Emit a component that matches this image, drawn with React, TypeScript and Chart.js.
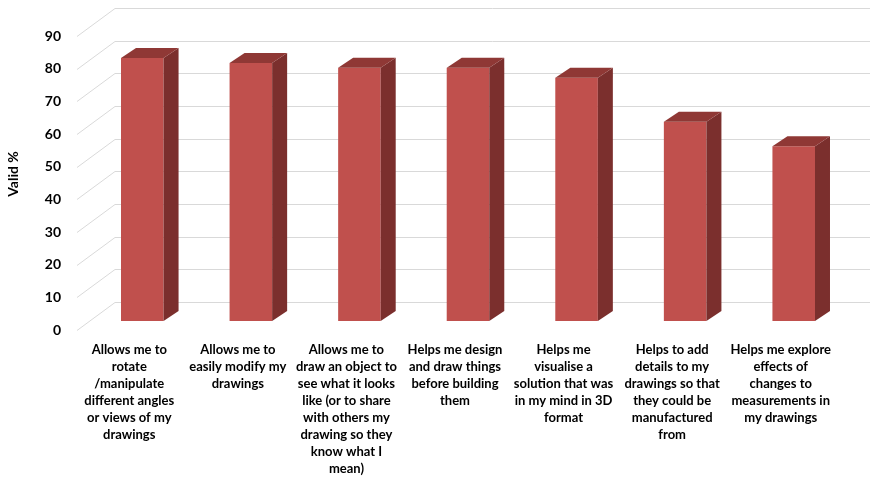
import React, { useEffect, useRef } from 'react';
import { Chart, registerables } from 'chart.js';

Chart.register(...registerables);

const categories: string[][] = [
  ['Allows me to', 'rotate', '/manipulate', 'different angles', 'or views of my', 'drawings'],
  ['Allows me to', 'easily modify my', 'drawings'],
  ['Allows me to', 'draw an object to', 'see what it looks', 'like (or to share', 'with others my', 'drawing so they', 'know what I', 'mean)'],
  ['Helps me design', 'and draw things', 'before building', 'them'],
  ['Helps me', 'visualise a', 'solution that was', 'in my mind in 3D', 'format'],
  ['Helps to add', 'details to my', 'drawings so that', 'they could be', 'manufactured', 'from'],
  ['Helps me explore', 'effects of', 'changes to', 'measurements in', 'my drawings'],
];

const validPercent: number[] = [80.5, 79, 77.5, 77.5, 74.5, 61, 53.5];

const yTicks: number[] = [0, 10, 20, 30, 40, 50, 60, 70, 80, 90];

const yTitle = 'Valid %';

const FONT = 'Lato, "Open Sans", sans-serif';
const FRONT = '#C0504D';
const SIDE = '#7B2F2D';
const TOP = '#8F3835';
const GRID = '#D9D9D9';
const BAR_DX = 15;
const BAR_DY = -10;

const plot3d = {
  id: 'plot3d',
  beforeDatasetsDraw(chart: any) {
    const { ctx, chartArea, scales } = chart;
    const y = scales.y;
    ctx.save();
    ctx.strokeStyle = GRID;
    ctx.lineWidth = 1;
    for (const v of yTicks) {
      const py = Math.round(y.getPixelForValue(v)) + 0.5;
      ctx.beginPath();
      ctx.moveTo(chartArea.left - 11, py + 9);
      ctx.lineTo(chartArea.left + 27, py - 19);
      ctx.lineTo(chart.width, py - 19);
      ctx.stroke();
    }
    ctx.restore();
  },
  afterDatasetsDraw(chart: any) {
    const { ctx } = chart;
    const meta = chart.getDatasetMeta(0);
    ctx.save();
    meta.data.forEach((bar: any) => {
      const { x, y, base, width } = bar.getProps(['x', 'y', 'base', 'width'], true);
      const l = x - width / 2;
      const r = x + width / 2;
      ctx.fillStyle = SIDE;
      ctx.beginPath();
      ctx.moveTo(r, y);
      ctx.lineTo(r + BAR_DX, y + BAR_DY);
      ctx.lineTo(r + BAR_DX, base + BAR_DY);
      ctx.lineTo(r, base);
      ctx.closePath();
      ctx.fill();
      ctx.fillStyle = TOP;
      ctx.beginPath();
      ctx.moveTo(l, y);
      ctx.lineTo(l + BAR_DX, y + BAR_DY);
      ctx.lineTo(r + BAR_DX, y + BAR_DY);
      ctx.lineTo(r, y);
      ctx.closePath();
      ctx.fill();
    });
    ctx.restore();
  },
};

export default function App() {
  const ref = useRef<HTMLCanvasElement | null>(null);

  useEffect(() => {
    if (!ref.current) return;
    const chart = new Chart(ref.current, {
      type: 'bar',
      data: {
        labels: categories,
        datasets: [
          {
            data: validPercent,
            backgroundColor: FRONT,
            borderWidth: 0,
            barPercentage: 0.392,
            categoryPercentage: 1,
          },
        ],
      },
      options: {
        responsive: false,
        animation: false,
        layout: { padding: { top: 27, right: 22, bottom: 0, left: 0 } },
        plugins: {
          legend: { display: false },
          tooltip: { enabled: false },
        },
        scales: {
          x: {
            type: 'category',
            offset: true,
            grid: { display: false, drawTicks: false },
            border: { display: false },
            ticks: {
              autoSkip: false,
              maxRotation: 0,
              minRotation: 0,
              padding: 20,
              labelOffset: -13,
              color: '#000',
              font: { family: FONT, size: 13, weight: 'bold', lineHeight: '17px' },
            },
            afterFit: (s: any) => {
              s.height = 156;
              s.paddingLeft = 0;
              s.paddingRight = 0;
            },
          },
          y: {
            min: 0,
            max: 90,
            grid: { display: false, drawTicks: false },
            border: { display: false },
            ticks: {
              stepSize: 10,
              padding: 27,
              labelOffset: 9,
              color: '#000',
              font: { family: FONT, size: 14, weight: 'bold' },
            },
            title: {
              display: true,
              text: yTitle,
              color: '#000',
              padding: { top: 5, bottom: 0 },
              font: { family: FONT, size: 14, weight: 'bold' },
            },
            afterFit: (s: any) => {
              s.width = 88;
              s.paddingTop = 0;
              s.paddingBottom = 0;
            },
          },
        },
      },
      plugins: [plot3d],
    });
    return () => chart.destroy();
  }, []);

  return (
    <div style={{ position: 'absolute', left: 0, top: 0, width: 870, height: 477, background: '#fff' }}>
      <canvas ref={ref} width={870} height={477} style={{ display: 'block' }} />
    </div>
  );
}
